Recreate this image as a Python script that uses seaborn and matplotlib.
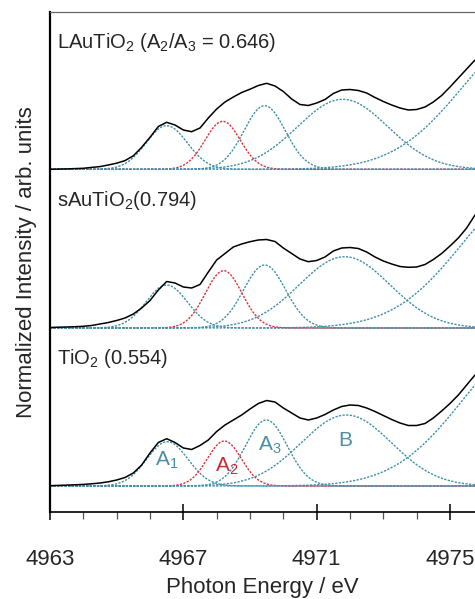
import numpy as np
import pandas as pd
import seaborn as sns
import matplotlib
matplotlib.use("Agg")
import matplotlib.pyplot as plt
from matplotlib.ticker import FixedLocator

# photon energy grid of the measured spectra (eV)
energy = 4963 + 0.25 * np.arange(52)

# measured spectra, heights above each baseline (arb. units)
black_top = [0, 0.2, 0.4, 0.7, 1.0, 1.9, 2.7, 4.3, 6.1, 8.7, 13.5, 22, 32, 42.8, 47, 44.3,
             39.3, 37.6, 41.3, 51.3, 60.3, 67.3, 72.3, 76.8, 80.1, 83.8, 86, 83.3, 77.8, 70.3,
             64.8, 63.8, 66.3, 69.8, 75.8, 79.3, 79.8, 78.8, 76.3, 71.8, 67.8, 64.3, 61.3, 59.3,
             59.8, 62.3, 67.3, 73.8, 82.3, 91.3, 100.3, 109.3]
black_mid = [0.5, 0.8, 1.0, 1.3, 1.7, 2.5, 4, 5.5, 7.5, 10, 14, 20, 27.5, 38, 46.5, 45,
             41, 40, 43.5, 56, 68, 74.5, 81, 84, 86.3, 88, 88.5, 86.5, 80, 74.5,
             69, 66.3, 67.5, 71, 77, 80, 80.5, 79.5, 76, 71, 67, 64, 61.5, 60.7,
             61, 63.5, 68.5, 74.5, 82, 90, 100, 113]
black_bot = [0.3, 0.6, 0.9, 1.2, 1.6, 2.2, 3, 4.2, 6, 8.5, 13, 21, 33, 43.5, 47.3, 43.5,
             38, 36.5, 40.5, 46, 54.5, 61, 66, 71, 77, 82.5, 85.5, 84, 78, 73,
             68, 66, 68, 71.5, 76, 79.5, 81, 80.5, 78, 74.5, 70.5, 66.5, 63, 60.5,
             60.5, 62.5, 68, 75, 82.5, 91, 101, 111]

# Gaussian fit components: A1, A2, A3, B, edge
comp_names = ["A1", "A2", "A3", "B", "edge"]
centers_top = [4966.50, 4968.18, 4969.44, 4971.78, 4977.5]
heights_top = [43.6, 48, 63.6, 70, 137]
widths_top = [0.62, 0.53, 0.62, 1.36, 2.1]
centers_mid = [4966.50, 4968.21, 4969.44, 4971.84, 4977.5]
heights_mid = [43, 57.3, 63, 71.3, 141]
widths_mid = [0.62, 0.55, 0.63, 1.36, 2.1]
centers_bot = [4966.52, 4968.23, 4969.49, 4971.89, 4977.5]
heights_bot = [44.3, 45, 66, 71, 143]
widths_bot = [0.62, 0.51, 0.63, 1.36, 2.1]

offsets = [342.7, 184, 26]
labels = ["LAuTiO$_2$ (A$_2$/A$_3$ = 0.646)", "sAuTiO$_2$(0.794)", "TiO$_2$ (0.554)"]

major_ticks = [4963, 4967, 4971, 4975]
minor_ticks = list(range(4963, 4976))

teal = "#4191ab"
red = "#d8343f"
comp_colors = [teal, red, teal, teal, teal]

sns.set_theme(style="white")
plt.rcParams["font.family"] = ["Liberation Sans", "DejaVu Sans"]
plt.rcParams["mathtext.fontset"] = "custom"
plt.rcParams["mathtext.rm"] = "Liberation Sans"
plt.rcParams["mathtext.it"] = "Liberation Sans"
plt.rcParams["mathtext.default"] = "regular"

fig = plt.figure(figsize=(4.75, 5.99), dpi=100)
ax = fig.add_axes([50 / 475, 87 / 599, 425 / 475, 500 / 599])

xs = np.linspace(4963, 4975.75, 500)
panels = [
    (black_top, centers_top, heights_top, widths_top),
    (black_mid, centers_mid, heights_mid, widths_mid),
    (black_bot, centers_bot, heights_bot, widths_bot),
]

for (black, cen, hgt, wid), off, lab in zip(panels, offsets, labels):
    for c, h, w, col in zip(cen, hgt, wid, comp_colors):
        g = off + h * np.exp(-(xs - c) ** 2 / (2 * w ** 2))
        sns.lineplot(x=xs, y=g, ax=ax, color=col, lw=1.0, linestyle=(0, (1.6, 1.0)))
    df = pd.DataFrame({"E": energy, "I": np.array(black) + off})
    sns.lineplot(data=df, x="E", y="I", ax=ax, color="black", lw=1.1)
    ax.text(4963.2, off + 127, lab, fontsize=14.5, ha="left", va="center")

# component labels on the TiO2 spectrum
ax.text(4966.5, 52, "A$_1$", color="#4a8fa5", fontsize=15, ha="center", va="center")
ax.text(4968.3, 46, "A$_2$", color="#c92b3b", fontsize=15, ha="center", va="center")
ax.text(4969.6, 67, "A$_3$", color="#4a8fa5", fontsize=15, ha="center", va="center")
ax.text(4971.85, 72, "B", color="#4a8fa5", fontsize=15, ha="center", va="center")

ax.set_xlim(4963, 4975.75)
ax.set_ylim(0, 500)
ax.set_yticks([])
ax.xaxis.set_major_locator(FixedLocator(major_ticks))
ax.xaxis.set_minor_locator(FixedLocator(minor_ticks))
ax.tick_params(axis="x", which="major", direction="inout", length=11, width=1.1,
               color="black", pad=21, labelsize=16, bottom=True)
ax.tick_params(axis="x", which="minor", direction="out", length=5, width=0.9,
               color="#555555", bottom=True)

for side in ["left", "bottom"]:
    ax.spines[side].set_color("black")
ax.spines["left"].set_linewidth(1.6)
ax.spines["bottom"].set_linewidth(1.2)
ax.spines["top"].set_color("#666666")
ax.spines["top"].set_linewidth(0.9)
ax.spines["right"].set_visible(False)

ax.set_xlabel("Photon Energy / eV", fontsize=16, labelpad=5)
ax.set_ylabel("Normalized Intensity / arb. units", fontsize=16, labelpad=9)

fig.savefig("out.png", dpi=100)
